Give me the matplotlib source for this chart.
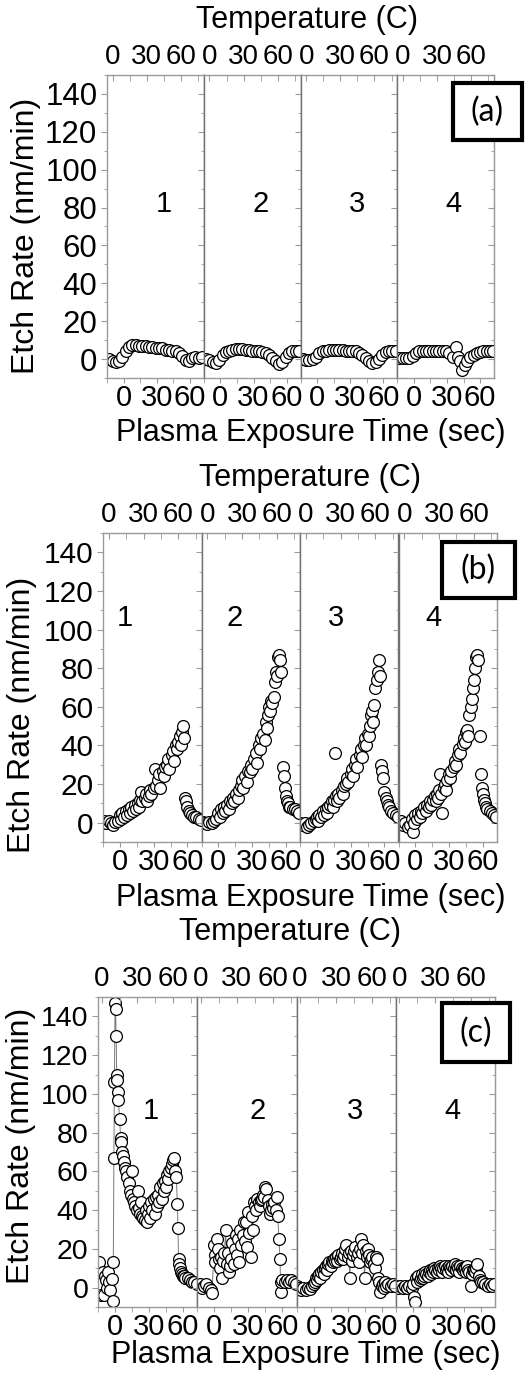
import matplotlib.pyplot as plt
from matplotlib.patches import Rectangle
from matplotlib.ticker import FixedLocator, MultipleLocator

plt.rcParams["font.family"] = ["Liberation Sans", "DejaVu Sans"]

# Tamaño de la figura en pixeles (dpi = 100)
ANCHO, ALTO = 527, 1379

# ---------------------------------------------------------------
# Datos: tiempo de exposición (s) y tasa (nm/min)
# ---------------------------------------------------------------
# Panel (a)
t_a1 = [-13, -10, -7, -4, -1, 2, 5, 8, 11, 14, 17, 20, 23, 26, 29, 32, 35, 38, 41, 44, 47, 50, 53, 56, 59, 62, 65, 68, 71]
r_a1 = [0, -1, -1.5, -1, 1, 4, 6.5, 7.5, 7.5, 7, 7, 7, 6.5, 6.5, 6, 6, 6, 5, 5, 4.5, 4, 3, 1.5, -0.5, -1, 0.5, 1, 0.5, 1]
t_a2 = [-13, -10, -7, -4, -1, 2, 5, 8, 11, 14, 17, 20, 23, 26, 29, 32, 35, 38, 41, 44, 47, 50, 53, 56, 59, 62, 65, 68, 71]
r_a2 = [0, -0.5, -1.5, -2, -0.5, 2, 3.5, 4.5, 5, 5.5, 5.5, 5.5, 5, 5, 4.5, 4.5, 4, 3.5, 3, 2, 0.5, -1, -2.5, -1.5, 1, 3, 4.5, 4.5, 4]
t_a3 = [-13, -10, -7, -4, -1, 2, 5, 8, 11, 14, 17, 20, 23, 26, 29, 32, 35, 38, 41, 44, 47, 50, 53, 56, 59, 62, 65, 68, 71]
r_a3 = [0, -0.5, -0.5, 0, 1, 3, 4, 4.5, 5, 5, 5, 5, 5, 4.5, 4.5, 4.5, 4, 3, 2, 0.5, -1, -2, -1.5, 0, 2, 3.5, 4.5, 4.5, 4]
t_a4 = [-13, -10, -7, -4, -1, 2, 5, 8, 11, 14, 17, 20, 23, 26, 29, 32, 35, 38, 40, 42, 44, 46, 48, 51, 54, 57, 60, 63, 66, 69, 72]
r_a4 = [0.5, 0.5, 0.5, 0.5, 1.5, 3, 4, 4.5, 4, 4.5, 4, 4.5, 4.5, 4, 4, 3, 1, 6.5, 1, -1, -6, -3, -1, 1, 2, 3, 3.5, 4, 4, 4, 4]

# Panel (b)
t_b1 = [-16, -14, -12, -10, -8, -6, -4, -2, 0, 1, 2, 4, 5, 6, 8, 9, 10, 12, 13, 14, 16, 17, 18, 19, 20,
        22, 23, 24, 26, 27, 28, 30, 31, 32, 34, 35, 36, 38, 39, 40, 42, 43, 44, 46, 47, 48,
        50, 51, 52, 53, 54, 55, 56, 57, 58, 59, 60, 61, 62, 64, 66, 68, 70, 72]
r_b1 = [0, 1, 0, 1, 0, -1, 0.5, 1, 4, 2, 5, 3, 6, 4, 7, 5, 8, 6, 9, 7, 10, 8, 12, 16, 11,
        13, 15, 11, 14, 17, 15, 18, 28, 19, 22, 25, 18, 27, 24, 29, 30, 33, 28, 35, 37, 32,
        40, 38, 42, 45, 40, 47, 50, 44, 13, 11, 8, 6, 5, 4, 3, 3, 2, 1.5]
t_b2 = [-16, -14, -12, -10, -8, -6, -4, -2, 0, 1, 2, 4, 5, 6, 8, 9, 10, 12, 13, 14, 16, 17, 18,
        20, 21, 22, 24, 25, 26, 28, 29, 30, 32, 33, 34, 36, 37, 38,
        40, 41, 42, 43, 44, 45, 46, 47, 48, 49, 50, 51, 52, 53, 54, 55, 56, 57, 58, 59, 60, 61, 62, 63, 64,
        66, 68, 70, 72]
r_b2 = [0, 0.5, 0, -0.5, 0.5, 0, 1, 2, 5, 3, 7, 5, 8, 6, 9, 7, 11, 10, 13, 11, 15, 13, 17,
        19, 22, 18, 24, 21, 27, 26, 30, 28, 33, 36, 31, 40, 38, 44,
        46, 43, 52, 49, 56, 60, 58, 63, 62, 65, 73, 78, 76, 86, 87, 84, 78, 29, 24, 18, 14, 11, 10, 8, 8,
        7, 7, 6, 5]
t_b3 = [-15, -13, -11, -9, -7, -5, -3, -1, 0, 1, 2, 4, 5, 6, 8, 9, 10,
        12, 13, 14, 15, 16, 17, 18, 19, 20, 22, 23, 24, 26, 27, 28, 30, 31, 32, 34, 35, 36, 38, 39, 40,
        42, 43, 44, 45, 46, 47, 48, 49, 50, 51, 52, 53, 54, 55, 56, 57, 58, 59, 60, 61, 62, 63, 64,
        66, 68, 70, 72]
r_b3 = [0, -1, 0, -2, -1, 0, 1, 2, 3, 1, 4, 3, 6, 4, 7, 5, 8,
        9, 11, 8, 12, 36, 14, 11, 15, 13, 17, 15, 19, 20, 23, 21, 25, 28, 24, 30, 33, 29, 35, 38, 34,
        40, 44, 40, 46, 45, 50, 56, 58, 52, 61, 70, 74, 78, 84, 76, 30, 27, 23, 16, 13, 11, 9, 8,
        6, 5, 4, 3]
t_b4 = [-15, -13, -11, -9, -7, -5, -3, -2, -1, 0, 1, 2, 4, 5, 6, 8, 9, 10, 12, 13, 14,
        16, 17, 18, 19, 20, 21, 22, 23, 24, 25, 26, 27, 28, 30, 31, 32, 34, 35, 36, 38, 39, 40,
        42, 43, 44, 45, 46, 47, 48, 49, 50, 51, 52, 53, 54, 55, 56, 57, 58, 59, 60, 61, 62, 63, 64,
        66, 68, 70, 72]
r_b4 = [0, 1, -1, 0, -2, -1, 2, -5, 0, 4, 2, 5, 3, 6, 5, 8, 6, 9, 8, 11, 9,
        12, 14, 11, 15, 13, 17, 25, 15, 5, 18, 20, 17, 22, 25, 23, 27, 29, 32, 30, 35, 38, 36,
        41, 44, 42, 47, 48, 45, 56, 60, 64, 70, 74, 80, 86, 87, 84, 45, 25, 18, 15, 12, 10, 8, 7,
        6, 5, 4, 3]

# Panel (c)
t_c1 = [-14, -13, -12, -11, -10, -9, -8, -7, -6, -5, -4, -3, -2, -1.5, -1, -0.5,
        0, 0.5, 1, 1.5, 2, 2.5, 3, 4, 5, 5.5, 6,
        7, 8, 9, 10, 11, 12, 13, 14, 15, 16, 17, 18, 19, 20, 21, 22, 23, 24, 25, 26, 27, 28, 29, 30,
        31, 32, 33, 34, 35, 36, 37, 38, 39, 40, 41, 42, 43, 44, 45, 46, 47, 48, 49, 50, 51, 52, 53, 54, 55,
        55.5, 56, 56.5, 57, 58, 59, 60, 61, 62, 64, 66, 68, 70, 72]
r_c1 = [13, 2, -4, 8, -4, 6, 4, 0, 8, 3, -1, 4.5, -7, 13, 67, 106,
        147, 144, 130, 110, 107, 101, 97, 87, 77, 75, 70,
        68, 65, 62, 60, 57, 54, 50, 48, 60, 46, 44, 42, 40, 50, 41, 38, 44, 37, 36, 35, 40, 34, 38, 42,
        36, 44, 40, 46, 38, 47, 42, 48, 44, 52, 46, 54, 50, 55, 52, 58, 56, 60, 62, 64, 66, 67, 60, 57, 43,
        31, 15, 12, 10, 8, 7, 6, 6, 5, 5, 4, 3, 3, 2]
t_c2 = [-15, -13, -11, -9, -7, -5, -3, -2, 0, 0.5,
        1, 2, 3, 4, 5, 6, 7, 8, 9, 10, 11, 12, 13, 14, 15, 16, 17, 18, 19, 20,
        21, 22, 23, 24, 25, 26, 27, 28, 29, 30, 31, 32, 33, 34, 35, 36, 37, 38, 39, 40,
        41, 42, 43, 44, 45, 46, 47, 48, 49, 50, 51, 52, 53, 54, 55, 56, 57, 58,
        58.5, 59, 60, 62, 64, 66, 68, 70, 72]
r_c2 = [1, 2, 0, 1, 2, 0, -1, -3, 22, 17,
        13, 25, 20, 15, 10, 16, 5, 14, 18, 30, 12, 18, 8, 11, 15, 23, 12, 20, 27, 17,
        25, 13, 30, 22, 27, 34, 24, 34, 21, 39, 28, 16, 37, 30, 44, 42, 40, 46, 44, 42,
        45, 46, 48, 47, 52, 51, 45, 42, 38, 40, 43, 41, 44, 40, 47, 37, 25, 15,
        -2, 3, 4, 3, 4, 3, 4, 3, 2]
t_c3 = [-15, -13, -11, -9, -7, -5, -3, -1,
        0, 1, 2, 3, 4, 5, 6, 7, 8, 9, 10, 11, 12, 13, 14, 15, 16, 17, 18, 19,
        20, 21, 22, 23, 24, 25, 26, 27, 28, 29, 30, 31, 32, 33, 34, 35, 36, 37, 38, 39,
        40, 41, 42, 43, 44, 45, 46, 47, 48, 49, 50, 51, 52, 53, 54, 55, 56, 57, 58, 59,
        60, 61, 62, 63, 64, 66, 68, 70, 72]
r_c3 = [1, 0, -1, 0, -1, 0, -0.5, 1,
        2, 3, 5, 4, 6, 7, 5, 8, 9, 7, 10, 11, 9, 12, 13, 11, 14, 13, 15, 14,
        16, 14, 17, 15, 16, 18, 15, 17, 20, 22, 16, 18, 5, 19, 14, 17, 19, 21, 16, 18,
        13, 20, 25, 18, 22, 5, 19, 16, 20, 17, 13, 15, 16, 12, 10, 16, 15, 5, 3, -2,
        1, 2, 0, 3, 1, 2, 1, 2, 1]
t_c4 = [-15, -13, -11, -9, -7, -5, -3, -1,
        0, 1, 2, 3, 4, 5, 6, 7, 8, 9, 10, 11, 12, 13, 14, 15, 16, 17, 18, 19,
        20, 21, 22, 23, 24, 25, 26, 27, 28, 29, 30, 31, 32, 33, 34, 35, 36, 37, 38, 39,
        40, 41, 42, 43, 44, 45, 46, 47, 48, 49, 50, 51, 52, 53, 54, 55, 56, 57, 58, 59,
        60, 62, 64, 66, 68, 70, 72]
r_c4 = [1, 0, 1, 0, 1, 0, 1, 0,
        2, -5, -7.5, 5, 3, 6, 4, 5, 7, 5, 6, 8, 7, 6, 8, 9, 7, 9, 8, 10,
        9, 8, 10, 9, 11, 10, 8, 10, 11, 9, 10, 8, 11, 10, 9, 11, 10, 12, 9, 11,
        10, 8, 11, 10, 9, 10, 10, 8, 11, 9, 8, 1, 7, 9, 9, 8, 10, 12, 6, 4,
        3, 3, 2, 1, 2, 1, 2]

# Etiquetas de texto
etiqueta_y = "Etch Rate (nm/min)"
etiqueta_x = "Plasma Exposure Time (sec)"
etiqueta_temp = "Temperature (C)"
numeros = ["1", "2", "3", "4"]
ticks_tiempo = [0, 30, 60]
ticks_temp = [0, 30, 60]

# Configuración de cada fila (posiciones en pixeles de la imagen)
filas = [
    {
        "series": [(t_a1, r_a1), (t_a2, r_a2), (t_a3, r_a3), (t_a4, r_a4)],
        "ejes": (107, 494, 75, 378),  # izquierda, derecha, arriba, abajo
        "temp_lim": (-5, 80),
        "numeros": [(36, 82), (36, 82), (36, 82), (36, 82)],
        "caja": (453, 83, 522, 140),
        "nombre": "(a)",
        "ylabel": (26, 236),
        "ytick_size": 22.5,
        "titulo": (307, 20),
        "xlabel": (311, 433),
        "lineas": False,
    },
    {
        "series": [(t_b1, r_b1), (t_b2, r_b2), (t_b3, r_b3), (t_b4, r_b4)],
        "ejes": (103, 497, 533, 842),
        "temp_lim": (-5, 80),
        "numeros": [(4, 106), (14, 106), (17, 106), (16, 106)],
        "caja": (442, 542, 515, 598),
        "nombre": "(b)",
        "ylabel": (22, 715),
        "ytick_size": 21.5,
        "titulo": (310, 478),
        "xlabel": (311, 898),
        "lineas": False,
    },
    {
        "series": [(t_c1, r_c1), (t_c2, r_c2), (t_c3, r_c3), (t_c4, r_c4)],
        "ejes": (98, 495, 997, 1307),
        "temp_lim": (-3, 80),
        "numeros": [(32, 91), (38, 91), (37, 91), (35, 91)],
        "caja": (442, 1003, 510, 1062),
        "nombre": "(c)",
        "ylabel": (21, 1146),
        "ytick_size": 20.5,
        "titulo": (290, 932),
        "xlabel": (306, 1355),
        "lineas": True,
    },
]

GRIS = "#9a9a9a"
GRIS_DIV = "#707070"


def fx(x):
    """Pixel horizontal -> fracción de figura"""
    return x / ANCHO


def fy(y):
    """Pixel vertical (desde arriba) -> fracción de figura"""
    return 1 - y / ALTO


def dibujar_fila(fig, fila):
    """Dibuja una fila de cuatro paneles que comparten el eje y"""
    izq, der, arr, aba = fila["ejes"]
    ancho = (der - izq) / 4

    for i, (t, r) in enumerate(fila["series"]):
        ax = fig.add_axes([fx(izq + i * ancho), fy(aba), ancho / ANCHO, (aba - arr) / ALTO])

        # Datos: círculos abiertos (con línea fina en el panel c)
        ax.plot(
            t, r,
            linestyle="-" if fila["lineas"] else "none",
            color="#7a7a7a", linewidth=0.7,
            marker="o", markersize=8.5, markerfacecolor="white",
            markeredgecolor="black", markeredgewidth=0.9,
        )

        ax.set_xlim(-15, 72.5)
        ax.set_ylim(-10, 150)

        # Eje inferior: tiempo
        ax.xaxis.set_major_locator(FixedLocator(ticks_tiempo))
        ax.xaxis.set_minor_locator(FixedLocator([-15, 15, 45]))
        ax.tick_params(axis="x", which="both", direction="out", length=3.5,
                       color=GRIS, labelsize=21, pad=0.5)

        # Eje y: solo el primer panel tiene etiquetas
        ax.yaxis.set_major_locator(MultipleLocator(20))
        ax.yaxis.set_minor_locator(MultipleLocator(10))
        ax.tick_params(axis="y", which="major", direction="out", length=4,
                       color=GRIS, labelsize=fila["ytick_size"], pad=3,
                       labelleft=(i == 0))
        ax.tick_params(axis="y", which="minor", direction="out", length=2.5, color=GRIS)

        for spine in ax.spines.values():
            spine.set_color(GRIS)
            spine.set_linewidth(1)
        if i > 0:
            ax.spines["left"].set_color(GRIS_DIV)
        if i < 3:
            ax.spines["right"].set_color(GRIS_DIV)

        # Último panel: marcas hacia adentro en el borde derecho
        if i == 3:
            sec = ax.secondary_yaxis("right")
            sec.yaxis.set_major_locator(MultipleLocator(20))
            sec.yaxis.set_minor_locator(MultipleLocator(10))
            sec.tick_params(which="both", direction="in", color=GRIS, labelright=False)
            sec.tick_params(which="major", length=4)
            sec.tick_params(which="minor", length=2.5)
            sec.spines["right"].set_color(GRIS)

        # Eje superior: temperatura
        ax2 = ax.twiny()
        ax2.set_xlim(*fila["temp_lim"])
        ax2.xaxis.set_major_locator(FixedLocator(ticks_temp))
        ax2.xaxis.set_minor_locator(FixedLocator([15, 45, 75]))
        ax2.tick_params(axis="x", which="both", direction="in", length=4,
                        color=GRIS, labelsize=20, pad=3.5)
        for spine in ax2.spines.values():
            spine.set_visible(False)

        # Número del panel
        nx_, ny_ = fila["numeros"][i]
        ax.text(nx_, ny_, numeros[i], ha="center", va="center", fontsize=21)

    # Etiquetas comunes de la fila
    fig.text(fx(fila["ylabel"][0]), fy(fila["ylabel"][1]), etiqueta_y,
             rotation=90, ha="center", va="center", fontsize=23)
    fig.text(fx(fila["titulo"][0]), fy(fila["titulo"][1]), etiqueta_temp,
             ha="center", va="center", fontsize=22)
    fig.text(fx(fila["xlabel"][0]), fy(fila["xlabel"][1]), etiqueta_x,
             ha="center", va="center", fontsize=22)

    # Caja con la letra del panel
    x0, y0, x1, y1 = fila["caja"]
    caja = Rectangle((fx(x0), fy(y1)), (x1 - x0) / ANCHO, (y1 - y0) / ALTO,
                     transform=fig.transFigure, facecolor="white",
                     edgecolor="black", linewidth=3, zorder=5)
    fig.add_artist(caja)
    fig.text(fx((x0 + x1) / 2), fy((y0 + y1) / 2), fila["nombre"],
             ha="center", va="center", fontsize=23, family="Lato", zorder=6)


def main():
    fig = plt.figure(figsize=(ANCHO / 100, ALTO / 100), dpi=100)
    for fila in filas:
        dibujar_fila(fig, fila)
    fig.savefig("out.png", dpi=100)
    plt.close(fig)


if __name__ == "__main__":
    main()
